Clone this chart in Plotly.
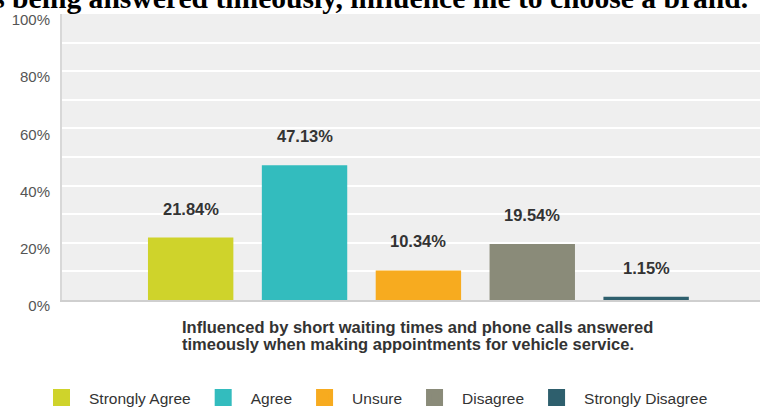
import plotly.graph_objects as go

categories = ["Strongly Agree", "Agree", "Unsure", "Disagree", "Strongly Disagree"]
values = [21.84, 47.13, 10.34, 19.54, 1.15]
labels = ["21.84%", "47.13%", "10.34%", "19.54%", "1.15%"]
colors = ["#cfd32b", "#33bcbe", "#f7ab1f", "#8a8b79", "#2e5f6d"]
tick_vals = [0, 20, 40, 60, 80, 100]
tick_text = ["0%", "20%", "40%", "60%", "80%", "100%"]
axis_title_lines = ["Influenced by short waiting times and phone calls answered",
                    "timeously when making appointments for vehicle service."]
title_text = "Short waiting times and phone calls being answered timeously, influence me to choose a brand."

fig = go.Figure()
for cat, val, col in zip(categories, values, colors):
    fig.add_trace(go.Bar(x=[cat], y=[val], marker=dict(color=col, line=dict(width=0)),
                         width=0.75, showlegend=False, hoverinfo="skip"))
# legend entries
for cat, col in zip(categories, colors):
    fig.add_trace(go.Bar(x=[None], y=[None], name=cat,
                         marker=dict(color=col, line=dict(color=col, width=5))))

for cat, val, lab in zip(categories, values, labels):
    fig.add_annotation(x=cat, y=val, xref="x", yref="y", text=lab, showarrow=False,
                       yanchor="middle", yshift=29,
                       font=dict(family="Arial", size=16.5, color="#333333", weight="bold"))

for i, line in enumerate(axis_title_lines):
    fig.add_annotation(x=-0.095, y=0, xref="x", yref="paper", text=line,
                       showarrow=False, align="left", xanchor="left", yanchor="middle",
                       yshift=-27 - 17 * i,
                       font=dict(family="Arial", size=16.5, color="#333333", weight="bold"))

fig.add_annotation(x=(750 - 62) / 698, y=1, xref="paper", yref="paper", text=title_text,
                   showarrow=False, xanchor="right", yanchor="bottom", yshift=-2,
                   font=dict(family="Liberation Serif", size=29.6, color="#000000", weight="bold"))

fig.update_layout(
    width=760, height=407,
    margin=dict(l=62, r=0, t=14, b=107, autoexpand=False),
    paper_bgcolor="white", plot_bgcolor="#efefef",
    barmode="overlay",
    legend=dict(orientation="h", x=-28 / 698, y=-(398 - 300) / 286,
                xanchor="left", yanchor="middle", itemwidth=45,
                font=dict(family="Arial", size=15.5, color="#333333")),
    xaxis=dict(categoryorder="array", categoryarray=categories, range=[-1.13, 5.0],
               showticklabels=False, showgrid=False, zeroline=False, automargin=False,
               showline=True, linecolor="#cfcfcf", linewidth=2, fixedrange=True),
    yaxis=dict(range=[0, 100], tickvals=tick_vals, ticktext=tick_text, automargin=False,
               showgrid=True, gridcolor="white", gridwidth=2,
               minor=dict(dtick=10, showgrid=True, gridcolor="white", gridwidth=2),
               zeroline=False, showline=True, linecolor="#d8d8d8", linewidth=2,
               ticks="", ticklabelshift=6, ticklabelstandoff=7, ticklabeloverflow="allow",
               tickfont=dict(family="Arial", size=15, color="#555555"), fixedrange=True),
)

fig.write_html("out.html", config={"displayModeBar": False},
               post_script="document.body.style.margin='0';document.body.style.overflow='hidden';")
